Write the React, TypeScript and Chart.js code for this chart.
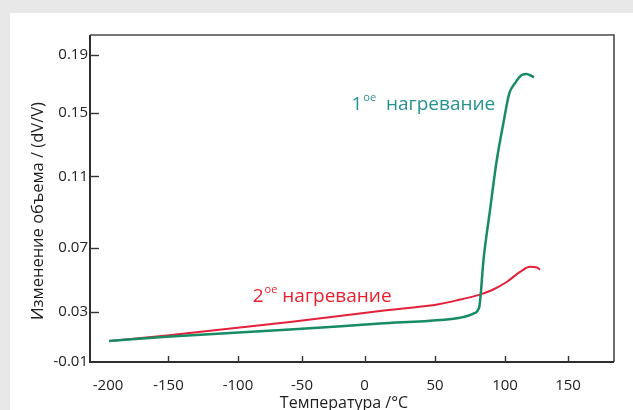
import React, { useEffect, useRef } from 'react';
import { Chart, registerables, LinearScale } from 'chart.js';

// Axis ticks and ranges
const tempTicks = [-200, -150, -100, -50, 0, 50, 100, 150];
const volTicks = [-0.01, 0.03, 0.07, 0.11, 0.15, 0.19];
const tempRange = [-215, 186.5];
const volRange = [-0.01, 0.204];

// 1st heating run: temperature (°C) and volume change (dV/V)
const firstT = [-199, -151.5, -59.4, 11, 53.6, 67.9, 77.4, 81.6, 82.3, 82.9, 84.0, 85.0, 87.1, 89.3, 91.6, 94.1, 98.8, 103.4, 107.9, 113.3, 117.2, 121.2, 123];
const firstV = [0.0068, 0.0102, 0.0159, 0.0207, 0.0236, 0.0254, 0.0287, 0.0331, 0.038, 0.0436, 0.0562, 0.0656, 0.0789, 0.0911, 0.105, 0.1201, 0.1433, 0.1634, 0.1704, 0.1761, 0.1768, 0.1754, 0.1745];

// 2nd heating run
const secondT = [-199, -151.5, -59.4, 11, 53.6, 67.9, 82.1, 91.6, 101.3, 111.9, 119.8, 125.2, 127.8];
const secondV = [0.0068, 0.0112, 0.022, 0.0306, 0.035, 0.0378, 0.0409, 0.0441, 0.0488, 0.0551, 0.0583, 0.0579, 0.0566];

// Where each tick sits along its axis (0 = start, 1 = end); the printed axes are not evenly spaced
const tempTickPos = [0.0344, 0.1498, 0.2824, 0.4046, 0.5239, 0.6584, 0.792, 0.9122];
const volTickPos = [0, 0.153, 0.348, 0.568, 0.762, 0.939];

const knots: Record<string, number[][]> = {
  x: [[tempRange[0], 0], ...tempTicks.map((v, i) => [v, tempTickPos[i]]), [tempRange[1], 1]],
  y: [[volRange[0], 0], ...volTicks.slice(1).map((v, i) => [v, volTickPos[i + 1]]), [volRange[1], 1]],
};

function toDecimal(v: number, k: number[][]) {
  let i = 0;
  while (i < k.length - 2 && v > k[i + 1][0]) i++;
  const [v0, d0] = k[i];
  const [v1, d1] = k[i + 1];
  return d0 + ((v - v0) / (v1 - v0)) * (d1 - d0);
}
function fromDecimal(d: number, k: number[][]) {
  let i = 0;
  while (i < k.length - 2 && d > k[i + 1][1]) i++;
  const [v0, d0] = k[i];
  const [v1, d1] = k[i + 1];
  return v0 + ((d - d0) / (d1 - d0)) * (v1 - v0);
}

// Linear scale with piecewise mapping between labelled ticks
class WarpedScale extends LinearScale {
  static id = 'warped';
  getPixelForValue(value: number) {
    if (value === null || value === undefined || isNaN(value)) return NaN;
    return this.getPixelForDecimal(toDecimal(value, knots[(this as any).axis]));
  }
  getValueForPixel(pixel: number) {
    return fromDecimal(this.getDecimalForPixel(pixel), knots[(this as any).axis]);
  }
}

Chart.register(...registerables, WarpedScale);

const FONT = '"Open Sans", "Noto Sans", sans-serif';
const GREEN = '#178c64';
const TEAL = '#23938f';
const RED = '#e3203a';
const RED_TEXT = '#ea1f2c';

const decor = {
  id: 'decor',
  afterDraw(chart: any) {
    const { ctx, chartArea: a, scales } = chart;
    const xs = scales.x;
    const ys = scales.y;
    ctx.save();

    // frame
    ctx.strokeStyle = '#4a4a4a';
    ctx.lineWidth = 1.6;
    ctx.beginPath();
    ctx.moveTo(a.left, a.top);
    ctx.lineTo(a.right, a.top);
    ctx.lineTo(a.right, a.bottom);
    ctx.stroke();
    ctx.strokeStyle = '#2e2e2e';
    ctx.lineWidth = 2;
    ctx.beginPath();
    ctx.moveTo(a.left, a.top);
    ctx.lineTo(a.left, a.bottom);
    ctx.lineTo(a.right, a.bottom);
    ctx.stroke();

    // inward tick marks
    ctx.lineWidth = 1.4;
    ctx.strokeStyle = '#333';
    volTicks.slice(1).forEach((v) => {
      const py = Math.round(ys.getPixelForValue(v)) + 0.5;
      ctx.beginPath();
      ctx.moveTo(a.left, py);
      ctx.lineTo(a.left + 9, py);
      ctx.stroke();
    });
    tempTicks.slice(1).forEach((v) => {
      const px = Math.round(xs.getPixelForValue(v)) + 0.5;
      ctx.beginPath();
      ctx.moveTo(px, a.bottom);
      ctx.lineTo(px, a.bottom - 6);
      ctx.stroke();
    });

    // axis titles
    ctx.fillStyle = '#1e1e1e';
    ctx.font = `16px ${FONT}`;
    ctx.textAlign = 'center';
    ctx.textBaseline = 'alphabetic';
    ctx.fillText('Температура /°C', 344, 408);
    ctx.save();
    ctx.translate(43, 211);
    ctx.rotate(-Math.PI / 2);
    ctx.font = `16.5px ${FONT}`;
    ctx.fillText('Изменение объема / (dV/V)', 0, 0);
    ctx.restore();

    // run labels
    const label = (t: number, v: number, num: string, gap: string, color: string) => {
      let px = xs.getPixelForValue(t);
      const py = ys.getPixelForValue(v);
      ctx.fillStyle = color;
      ctx.textAlign = 'left';
      ctx.font = `19px ${FONT}`;
      ctx.fillText(num, px, py);
      px += ctx.measureText(num).width + 1;
      ctx.font = `11px ${FONT}`;
      ctx.fillText('ое', px, py - 9);
      px += ctx.measureText('ое').width;
      ctx.font = `19px ${FONT}`;
      ctx.fillText(gap + 'нагревание', px, py);
    };
    label(-10.5, 0.1519, '1', '  ', TEAL);
    label(-88.5, 0.0363, '2', ' ', RED_TEXT);

    ctx.restore();
  },
};

export default function App() {
  const ref = useRef<HTMLCanvasElement>(null);

  useEffect(() => {
    if (!ref.current) return;
    const chart = new Chart(ref.current, {
      type: 'line',
      data: {
        datasets: [
          {
            label: '1ое нагревание',
            data: firstT.map((t, i) => ({ x: t, y: firstV[i] })),
            borderColor: GREEN,
            borderWidth: 2.5,
            pointRadius: 0,
            cubicInterpolationMode: 'monotone',
          },
          {
            label: '2ое нагревание',
            data: secondT.map((t, i) => ({ x: t, y: secondV[i] })),
            borderColor: RED,
            borderWidth: 2,
            pointRadius: 0,
            cubicInterpolationMode: 'monotone',
          },
        ],
      },
      options: {
        animation: false,
        responsive: false,
        maintainAspectRatio: false,
        layout: { padding: { top: 35, right: 19, left: 0, bottom: 0 } },
        plugins: { legend: { display: false }, tooltip: { enabled: false } },
        scales: {
          x: {
            type: 'warped' as any,
            min: tempRange[0],
            max: tempRange[1],
            afterBuildTicks: (s: any) => {
              s.ticks = tempTicks.map((v) => ({ value: v }));
            },
            afterFit: (s: any) => {
              s.height = 48;
            },
            grid: { display: false, drawTicks: false },
            border: { display: false },
            ticks: {
              autoSkip: false,
              maxRotation: 0,
              padding: 15,
              color: '#222',
              font: { family: FONT, size: 15 },
              callback: (v: any) => String(v),
            },
          },
          y: {
            type: 'warped' as any,
            min: volRange[0],
            max: volRange[1],
            afterBuildTicks: (s: any) => {
              s.ticks = volTicks.map((v) => ({ value: v }));
            },
            afterFit: (s: any) => {
              s.width = 90;
            },
            grid: { display: false, drawTicks: false },
            border: { display: false },
            ticks: {
              autoSkip: false,
              padding: 2,
              color: '#222',
              font: { family: FONT, size: 15 },
              callback: (v: any) => Number(v).toFixed(2),
            },
          },
        },
      },
      plugins: [decor],
    });
    return () => chart.destroy();
  }, []);

  return (
    <div style={{ position: 'fixed', inset: 0, background: '#e8e8e8' }}>
      <div style={{ position: 'absolute', left: 10, top: 13, right: 0, bottom: 0, background: '#fff' }} />
      <canvas
        ref={ref}
        width={633}
        height={410}
        style={{ position: 'absolute', left: 0, top: 0, width: 633, height: 410 }}
      />
    </div>
  );
}
